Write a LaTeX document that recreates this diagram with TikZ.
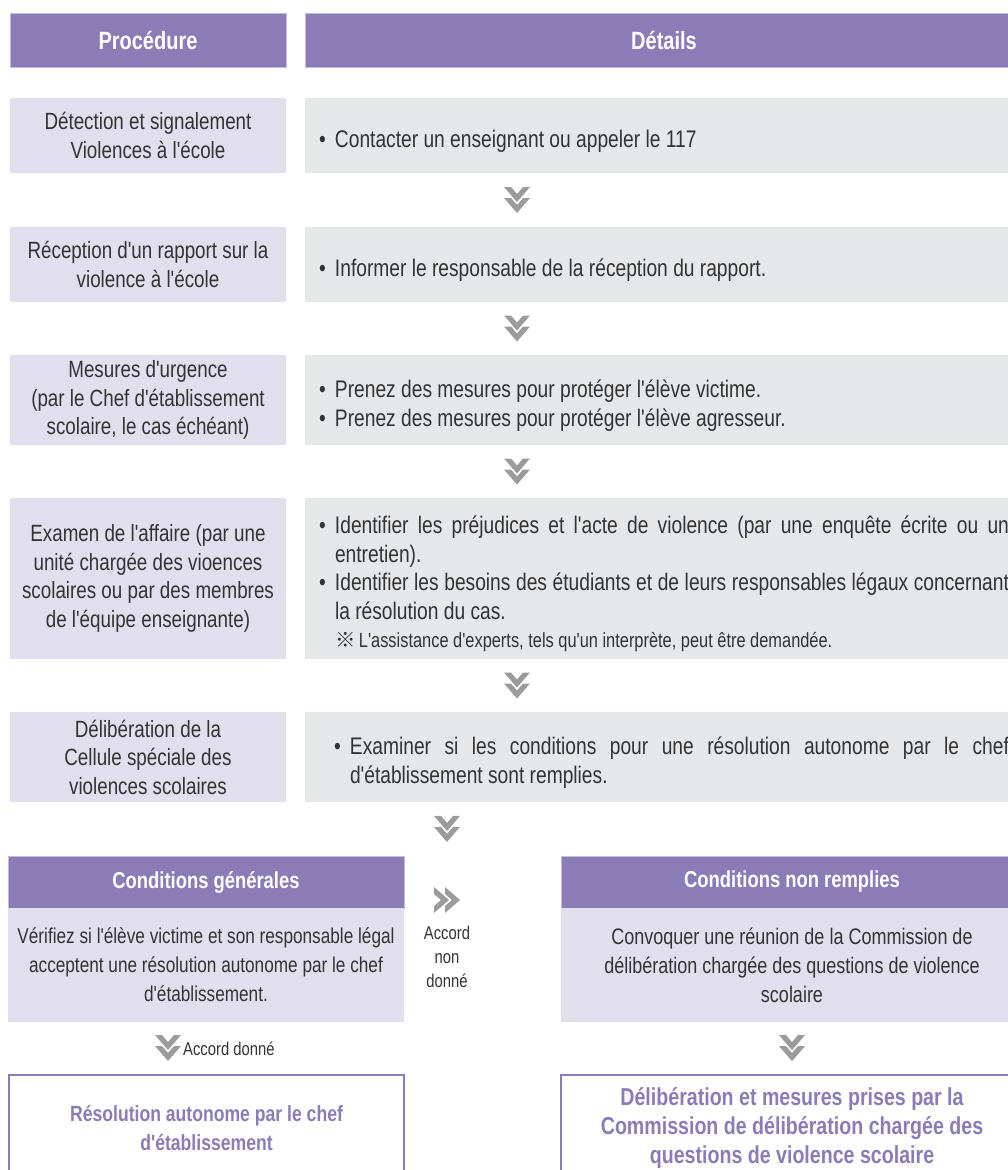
\documentclass[tikz,border=0pt]{standalone}
\usepackage{fontspec}
\setmainfont{Liberation Sans}[FakeStretch=0.8,Ligatures=TeXOff]
\newfontfamily\refmark{Noto Sans CJK JP}
\usepackage{xcolor}
\definecolor{hdr}{RGB}{139,124,184}
\definecolor{hdrline}{RGB}{196,187,222}
\definecolor{lila}{RGB}{225,222,238}
\definecolor{gris}{RGB}{230,231,233}
\definecolor{chevgray}{RGB}{155,155,155}
\definecolor{txt}{RGB}{51,51,51}
\newcommand\puce{\par\noindent\hangindent=16pt\hangafter=1\makebox[16pt][l]{\textbullet}}

\begin{document}
\begin{tikzpicture}[x=1pt,y=-1pt,
  hd/.style={fill=hdr,draw=hdrline,line width=.6pt,text=white,inner sep=0pt,
    font=\fontsize{25}{27}\selectfont\bfseries},
  lft/.style={fill=lila,text=txt,align=flush center,text width=262,inner xsep=7pt,
    inner ysep=0pt,font=\fontsize{23.5}{28.5}\selectfont},
  rgt/.style={fill=gris,text=txt,align=justify,text width=690,inner xsep=14pt,
    inner ysep=0pt,font=\fontsize{24}{28.5}\selectfont},
  lbl/.style={text=txt,align=flush center,inner sep=0pt,font=\fontsize{18.5}{24}\selectfont},
  fin/.style={draw=hdr,line width=2pt,fill=white,text=hdr,align=flush center,
    font=\fontsize{22}{29}\selectfont\bfseries},
  chev/.pic={\fill[chevgray] (-13,-13) -- (-6,-13) -- (0,-6) -- (6,-13)
    -- (13,-13) -- (0,2) -- cycle (-13,-2) -- (-6,-2) -- (0,5) -- (6,-2)
    -- (13,-2) -- (0,13) -- cycle;}]
  \useasboundingbox (0,0) rectangle (1008,1170);
  \clip (0,0) rectangle (1008,1170);
  \coordinate (axe) at (517,0);

  \node[hd,minimum width=276,minimum height=54] (hproc) at (148,40) {Procédure};
  \node[hd,minimum width=718,minimum height=54] (hdet) at (664,40) {Détails};

  \node[lft,minimum height=75] (r1l) at (148,135.5)
    {Détection et signalement\\Violences à l'école};
  \node[rgt,minimum height=75] (r1r) at (664,135.5)
    {\puce Contacter un enseignant ou appeler le 117\par};
  \node[lft,minimum height=75] (r2l) at (148,264.5)
    {Réception d'un rapport sur la\\violence à l'école};
  \node[rgt,minimum height=75] (r2r) at (664,264.5)
    {\puce Informer le responsable de la réception du rapport.\par};
  \node[lft,minimum height=90] (r3l) at (148,400)
    {Mesures d'urgence\\(par le Chef d'établissement\\scolaire, le cas échéant)};
  \node[rgt,minimum height=90] (r3r) at (664,400)
    {\puce Prenez des mesures pour protéger l'élève victime.
     \puce Prenez des mesures pour protéger l'élève agresseur.\par};
  \node[lft,minimum height=161] (r4l) at (148,578.5)
    {Examen de l'affaire (par une\\unité chargée des vioences\\scolaires ou par des membres\\de l'équipe enseignante)};
  \node[rgt,minimum height=161] (r4r) at (664,578.5)
    {\puce Identifier les préjudices et l'acte de violence (par une enquête écrite ou un\linebreak entretien).
     \puce Identifier les besoins des étudiants et de leurs responsables légaux concernant\linebreak la résolution du cas.
     \par\noindent\hspace*{16pt}{\fontsize{20.5}{26}\selectfont{\refmark ※}\,L'assistance d'experts, tels qu'un interprète, peut être demandée.}\par};
  \node[lft,minimum height=90] (r5l) at (148,757)
    {Délibération de la\\Cellule spéciale des\\violences scolaires};
  \node[rgt,minimum height=90] (r5r) at (664,757)
    {\leftskip=15pt\puce Examiner si les conditions pour une résolution autonome par le chef\linebreak d'établissement sont remplies.\par};

  \path (r1r.south -| axe) -- (r2r.north -| axe) pic[pos=.5] {chev};
  \path (r2r.south -| axe) -- (r3r.north -| axe) pic[pos=.5] {chev};
  \path (r3r.south -| axe) -- (r4r.north -| axe) pic[pos=.5] {chev};
  \path (r4r.south -| axe) -- (r5r.north -| axe) pic[pos=.5] {chev};

  \node[hd,minimum width=396,minimum height=52,font=\fontsize{23}{27}\selectfont\bfseries] (cgh) at (206,882) {Conditions générales};
  \node[lft,text width=382,minimum height=114,font=\fontsize{21.5}{29}\selectfont] (cgb) at (206,965)
    {Vérifiez si l'élève victime et son responsable légal\\acceptent une résolution autonome par le chef\\d'établissement.};
  \node[hd,minimum width=462,minimum height=52,font=\fontsize{23}{27}\selectfont\bfseries] (cnh) at (792,882) {Conditions non remplies};
  \node[lft,text width=448,minimum height=114,font=\fontsize{22.5}{29}\selectfont] (cnb) at (792,965)
    {Convoquer une réunion de la Commission de\\délibération chargée des questions de violence\\scolaire};
  \node[lbl] (acc) at (447,957) {Accord\\non\\donné};
  \path (r5r.south -| acc) -- (cnh.north -| acc) pic[pos=.5] {chev};
  \pic[rotate=90] at (447,900) {chev};

  \node[fin,minimum width=395,minimum height=106] (rac) at (206.5,1128)
    {Résolution autonome par le chef\\d'établissement};
  \node[fin,minimum width=462,minimum height=106,font=\fontsize{24.5}{29}\selectfont\bfseries] (dmc) at (792,1128)
    {Délibération et mesures prises par la\\Commission de délibération chargée des\\questions de violence scolaire};
  \pic at (168,1048) {chev};
  \node[lbl,anchor=west] (ado) at (183,1049) {Accord donné};
  \path (cnb.south) -- (dmc.north) pic[pos=.5] {chev};
\end{tikzpicture}
\end{document}
